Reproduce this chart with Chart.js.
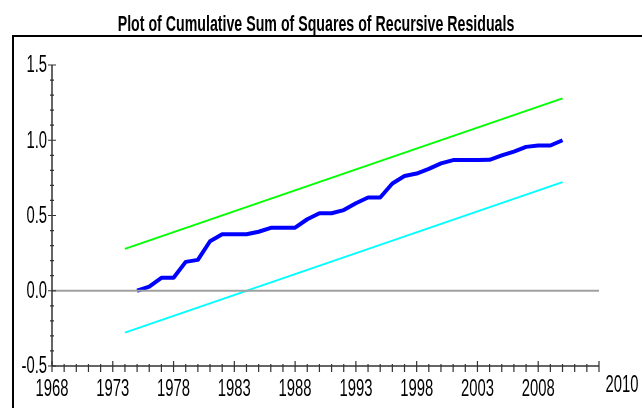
<!DOCTYPE html>
<html>
<head>
<meta charset="utf-8">
<script src="https://cdn.jsdelivr.net/npm/chart.js@4.4.1/dist/chart.umd.min.js"></script>
<style>
	body { margin: 0; background: #ffffff; }
	canvas { display: block; }
</style>
</head>
<body>
<canvas id="chart" width="642" height="408"></canvas>
<script>
const years = [
	1975, 1976, 1977, 1978, 1979, 1980, 1981, 1982, 1983, 1984, 1985, 1986,
	1987, 1988, 1989, 1990, 1991, 1992, 1993, 1994, 1995, 1996, 1997, 1998,
	1999, 2000, 2001, 2002, 2003, 2004, 2005, 2006, 2007, 2008, 2009, 2010
];
const cusumsq = [
	0.000, 0.027, 0.086, 0.086, 0.192, 0.205, 0.329, 0.375, 0.375, 0.375, 0.392, 0.418,
	0.418, 0.419, 0.475, 0.515, 0.515, 0.536, 0.581, 0.620, 0.620, 0.713, 0.762, 0.779,
	0.810, 0.846, 0.868, 0.868, 0.868, 0.870, 0.899, 0.925, 0.956, 0.965, 0.965, 1.000
];
const boundYears = [1974, 2010];
const upperBound = [0.278, 1.278];
const lowerBound = [-0.278, 0.722];
const zeroLine = [0, 0];
const zeroYears = [1968, 2013];
const xTicks = [1968, 1973, 1978, 1983, 1988, 1993, 1998, 2003, 2008];
const yTicks = [-0.5, 0.0, 0.5, 1.0, 1.5];
const extraXLabel = "2010";
const title = "Plot of Cumulative Sum of Squares of Recursive Residuals";

const fontFamily = "'Liberation Sans', Arial, sans-serif";
// the reference uses a very condensed face, so text is squeezed horizontally
const squeeze = 0.645;

function toPoints(xs, ys) {
	return xs.map((x, i) => ({ x: x, y: ys[i] }));
}

function range(from, to, step) {
	const values = [];
	for (let v = from; v <= to + 1e-9; v += step) {
		values.push(Math.round(v * 10) / 10);
	}
	return values;
}

function drawText(ctx, text, x, y, align) {
	ctx.save();
	ctx.translate(x, y);
	ctx.scale(squeeze, 1);
	ctx.textAlign = align;
	ctx.fillText(text, 0, 0);
	ctx.restore();
}

const axisPlugin = {
	id: "axisPlugin",
	afterDraw(chart) {
		const ctx = chart.ctx;
		const xScale = chart.scales.x;
		const yScale = chart.scales.y;
		const left = xScale.left;
		const right = xScale.right;
		const top = yScale.top;
		const bottom = yScale.bottom;
		ctx.save();
		// outer frame
		ctx.strokeStyle = "#000000";
		ctx.lineWidth = 2;
		ctx.beginPath();
		ctx.moveTo(13, 408);
		ctx.lineTo(13, 36);
		ctx.lineTo(642, 36);
		ctx.stroke();
		// axis lines
		ctx.strokeStyle = "#333333";
		ctx.lineWidth = 1.5;
		ctx.beginPath();
		ctx.moveTo(left, top);
		ctx.lineTo(left, bottom);
		ctx.moveTo(left, bottom);
		ctx.lineTo(right, bottom);
		ctx.stroke();
		// tick marks
		ctx.lineWidth = 1.2;
		ctx.beginPath();
		for (const tick of xScale.ticks) {
			const px = xScale.getPixelForValue(tick.value);
			const major = xTicks.includes(tick.value) || tick.value === zeroYears[1];
			ctx.moveTo(px, major ? bottom - 5 : bottom - 2);
			ctx.lineTo(px, bottom + 6);
		}
		for (const tick of yScale.ticks) {
			const py = yScale.getPixelForValue(tick.value);
			const major = yTicks.includes(tick.value);
			ctx.moveTo(major ? left - 4 : left - 2, py);
			ctx.lineTo(major ? left + 4 : left + 2, py);
		}
		ctx.stroke();
		// tick labels
		ctx.fillStyle = "#000000";
		ctx.font = "23px " + fontFamily;
		ctx.textBaseline = "middle";
		for (const value of xTicks) {
			drawText(ctx, String(value), xScale.getPixelForValue(value), bottom + 24, "center");
		}
		for (const value of yTicks) {
			drawText(ctx, value.toFixed(1), left - 5, yScale.getPixelForValue(value) + 1, "right");
		}
		drawText(ctx, extraXLabel, right + 23, bottom + 20, "center");
		// title
		ctx.font = "bold 22px " + fontFamily;
		ctx.textBaseline = "alphabetic";
		drawText(ctx, title, 316, 31, "center");
		ctx.restore();
	}
};

const data = {
	datasets: [
		{
			label: "zero",
			data: toPoints(zeroYears, zeroLine),
			borderColor: "#a0a0a0",
			borderWidth: 2
		},
		{
			label: "upper",
			data: toPoints(boundYears, upperBound),
			borderColor: "#00ff00",
			borderWidth: 2
		},
		{
			label: "lower",
			data: toPoints(boundYears, lowerBound),
			borderColor: "#00ffff",
			borderWidth: 2
		},
		{
			label: "CUSUMSQ",
			data: toPoints(years, cusumsq),
			borderColor: "#0000ff",
			borderWidth: 4,
			borderJoinStyle: "round"
		}
	]
};

const options = {
	responsive: false,
	animation: false,
	layout: {
		padding: { left: 0, right: 43, top: 65, bottom: 0 }
	},
	elements: {
		point: { radius: 0 },
		line: { tension: 0 }
	},
	plugins: {
		legend: { display: false },
		tooltip: { enabled: false },
		title: { display: false }
	},
	scales: {
		x: {
			type: "linear",
			min: zeroYears[0],
			max: zeroYears[1],
			grid: { display: false, drawTicks: false },
			border: { display: false },
			afterBuildTicks: scale => {
				scale.ticks = range(zeroYears[0], zeroYears[1], 1).map(v => ({ value: v }));
			},
			afterFit: scale => {
				scale.height = 42;
			},
			ticks: { display: false, autoSkip: false }
		},
		y: {
			type: "linear",
			min: -0.5,
			max: 1.5,
			grid: { display: false, drawTicks: false },
			border: { display: false },
			afterBuildTicks: scale => {
				scale.ticks = range(-0.5, 1.5, 0.1).map(v => ({ value: v }));
			},
			afterFit: scale => {
				scale.width = 52;
			},
			ticks: { display: false, autoSkip: false }
		}
	}
};

const context = document.getElementById("chart").getContext("2d");
new Chart(context, { type: "line", data: data, options: options, plugins: [axisPlugin] });
</script>
</body>
</html>
